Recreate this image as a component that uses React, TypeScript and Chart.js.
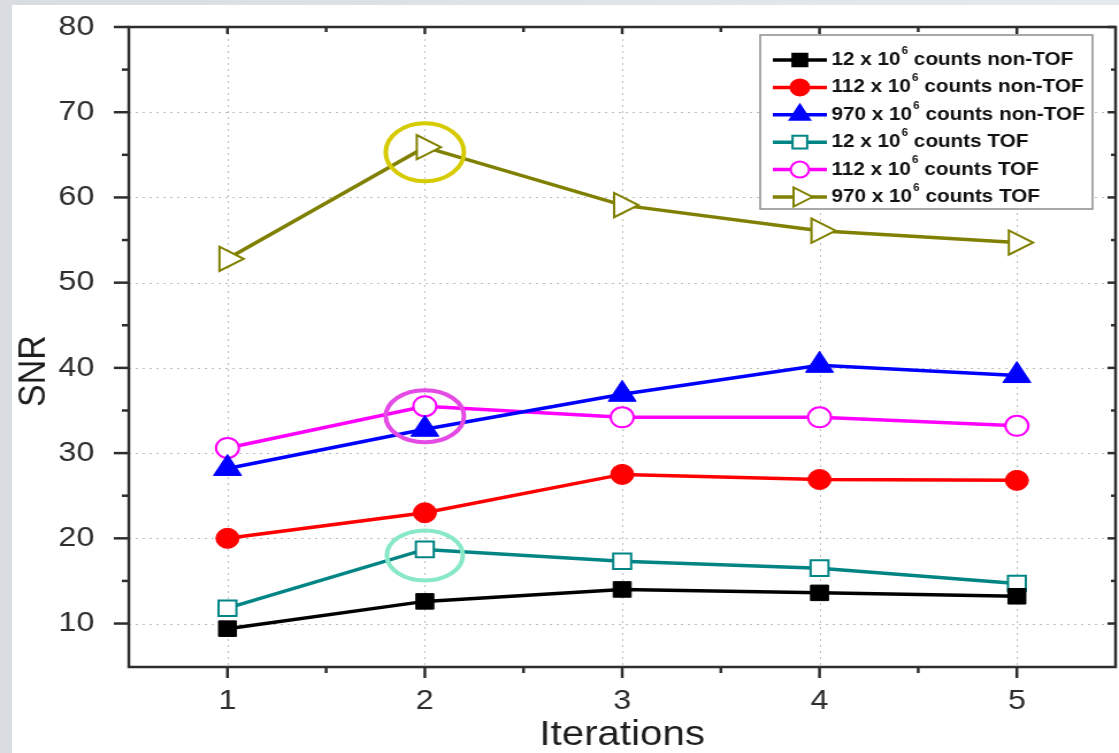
import React, { useEffect, useRef } from 'react';
import { Chart, registerables } from 'chart.js';
import { drawPoint } from 'chart.js/helpers';

Chart.register(...registerables);

// ---------- data ----------
const iterations = [1, 2, 3, 4, 5];
const seriesLabels = [
  '12 x 10⁶ counts non-TOF',
  '112 x 10⁶ counts non-TOF',
  '970 x 10⁶ counts non-TOF',
  '12 x 10⁶ counts TOF',
  '112 x 10⁶ counts TOF',
  '970 x 10⁶ counts TOF',
];
const snr12NonTof = [9.4, 12.6, 14.0, 13.6, 13.2];
const snr112NonTof = [20.0, 23.0, 27.5, 26.9, 26.8];
const snr970NonTof = [28.2, 32.8, 36.9, 40.3, 39.1];
const snr12Tof = [11.8, 18.7, 17.3, 16.5, 14.7];
const snr112Tof = [30.6, 35.5, 34.2, 34.2, 33.2];
const snr970Tof = [52.8, 65.9, 59.1, 56.1, 54.7];
const xTickValues = [1, 2, 3, 4, 5];
const xTickLabels = ['1', '2', '3', '4', '5'];
const yTickValues = [10, 20, 30, 40, 50, 60, 70, 80];
const yTickLabels = ['10', '20', '30', '40', '50', '60', '70', '80'];
const xAxisTitle = 'Iterations';
const yAxisTitle = 'SNR';

const seriesValues = [snr12NonTof, snr112NonTof, snr970NonTof, snr12Tof, snr112Tof, snr970Tof];

// ---------- styles ----------
const FONT = "'Liberation Sans', Arial, Helvetica, sans-serif";
const INK = '#2e2e2e';
const CANVAS_W = 973; // drawn narrower, displayed stretched like the reference
const CANVAS_H = 753;
const DISPLAY_W = 1119;

const seriesStyles = [
  { color: '#000000', fill: '#000000', pointStyle: 'rect', radius: 11, rotation: 0, lr: 9 },
  { color: '#ff0000', fill: '#ff0000', pointStyle: 'circle', radius: 10, rotation: 0, lr: 8 },
  { color: '#0000ff', fill: '#0000ff', pointStyle: 'triangle', radius: 14, rotation: 0, lr: 10 },
  { color: '#008484', fill: '#ffffff', pointStyle: 'rect', radius: 11, rotation: 0, lr: 9 },
  { color: '#ff00ff', fill: '#ffffff', pointStyle: 'circle', radius: 10, rotation: 0, lr: 8 },
  { color: '#808000', fill: '#ffffff', pointStyle: 'triangle', radius: 14, rotation: 90, lr: 11 },
];

const highlightRings = [
  { series: 5, index: 1, color: '#d6cb00', dy: 5, rx: 34, ry: 29 },
  { series: 4, index: 1, color: '#e44ae4', dy: 10, rx: 34, ry: 26 },
  { series: 3, index: 1, color: '#88e8c8', dy: 6, rx: 33, ry: 25 },
];

const legendBox = { left: 661, top: 35, right: 950, bottom: 209, rowTop: 60, rowStep: 27.4, lineX1: 672, lineX2: 719, textX: 723 };

const zeroPadding = (s: any) => {
  s.paddingTop = 0;
  s.paddingBottom = 0;
  s.paddingLeft = 0;
  s.paddingRight = 0;
};

const framePlugin = {
  id: 'originFrame',
  beforeDatasetsDraw(chart: any) {
    const { ctx, chartArea, scales } = chart;
    const { left, right, top, bottom } = chartArea;
    ctx.save();
    ctx.strokeStyle = '#bdbdbd';
    ctx.lineWidth = 1;
    ctx.setLineDash([2, 4]);
    for (const v of xTickValues) {
      const px = Math.round(scales.x.getPixelForValue(v)) + 0.5;
      ctx.beginPath(); ctx.moveTo(px, top); ctx.lineTo(px, bottom); ctx.stroke();
    }
    for (const v of yTickValues) {
      const py = Math.round(scales.y.getPixelForValue(v)) + 0.5;
      ctx.beginPath(); ctx.moveTo(left, py); ctx.lineTo(right, py); ctx.stroke();
    }
    ctx.restore();
  },
  afterDatasetsDraw(chart: any) {
    const { ctx } = chart;
    ctx.save();
    for (const ring of highlightRings) {
      const el = chart.getDatasetMeta(ring.series).data[ring.index];
      ctx.strokeStyle = ring.color;
      ctx.lineWidth = 4;
      ctx.beginPath();
      ctx.ellipse(el.x, el.y + ring.dy, ring.rx, ring.ry, 0, 0, Math.PI * 2);
      ctx.stroke();
    }
    ctx.restore();
  },
  afterDraw(chart: any) {
    const { ctx, chartArea, scales } = chart;
    const { left, right, top, bottom } = chartArea;
    ctx.save();
    ctx.strokeStyle = INK;
    ctx.lineWidth = 2.5;
    ctx.setLineDash([]);
    const seg = (x1: number, y1: number, x2: number, y2: number) => {
      ctx.beginPath(); ctx.moveTo(x1, y1); ctx.lineTo(x2, y2); ctx.stroke();
    };
    // x ticks
    for (let i = 0; i < xTickValues.length; i++) {
      const px = scales.x.getPixelForValue(xTickValues[i]);
      seg(px, bottom, px, bottom + 11);
      seg(px, top, px, top + 7);
      if (i < xTickValues.length - 1) {
        const mx = scales.x.getPixelForValue((xTickValues[i] + xTickValues[i + 1]) / 2);
        seg(mx, bottom, mx, bottom + 6);
        seg(mx, top, mx, top + 5);
      }
    }
    // y ticks
    for (let i = 0; i < yTickValues.length; i++) {
      const py = scales.y.getPixelForValue(yTickValues[i]);
      seg(left - 13, py, left, py);
      seg(right, py, right - 7, py);
      if (i < yTickValues.length - 1) {
        const my = scales.y.getPixelForValue((yTickValues[i] + yTickValues[i + 1]) / 2);
        seg(left - 6, my, left, my);
        seg(right, my, right - 4, my);
      }
    }
    ctx.strokeRect(left, top, right - left, bottom - top);

    // y title
    ctx.save();
    ctx.translate(30, 371);
    ctx.rotate(-Math.PI / 2);
    ctx.fillStyle = '#1e1e1e';
    ctx.font = `34px ${FONT}`;
    ctx.textAlign = 'center';
    ctx.textBaseline = 'middle';
    ctx.fillText(yAxisTitle, 0, 0);
    ctx.restore();

    // legend
    const lb = legendBox;
    ctx.fillStyle = '#ffffff';
    ctx.fillRect(lb.left, lb.top, lb.right - lb.left, lb.bottom - lb.top);
    ctx.strokeStyle = '#8c8c8c';
    ctx.lineWidth = 1.5;
    ctx.strokeRect(lb.left, lb.top, lb.right - lb.left, lb.bottom - lb.top);
    chart.data.datasets.forEach((ds: any, i: number) => {
      const st = seriesStyles[i];
      const cy = lb.rowTop + i * lb.rowStep;
      ctx.strokeStyle = st.color;
      ctx.lineWidth = 3.5;
      seg(lb.lineX1, cy, lb.lineX2, cy);
      ctx.fillStyle = st.fill;
      ctx.strokeStyle = st.color;
      ctx.lineWidth = 2;
      drawPoint(ctx, { pointStyle: st.pointStyle, rotation: st.rotation, radius: st.lr, borderWidth: 2 } as any, (lb.lineX1 + lb.lineX2) / 2, cy);
      const parts = String(ds.label).split('⁶');
      ctx.fillStyle = '#111111';
      ctx.textAlign = 'left';
      ctx.textBaseline = 'middle';
      ctx.font = `bold 18px ${FONT}`;
      let tx = lb.textX;
      ctx.fillText(parts[0], tx, cy);
      tx += ctx.measureText(parts[0]).width;
      if (parts.length > 1) {
        ctx.font = `bold 10px ${FONT}`;
        ctx.fillText('6', tx + 1, cy - 9);
        tx += ctx.measureText('6').width + 1;
        ctx.font = `bold 18px ${FONT}`;
        ctx.fillText(parts[1], tx, cy);
      }
    });
    ctx.restore();
  },
};

export default function App() {
  const canvasRef = useRef<HTMLCanvasElement | null>(null);

  useEffect(() => {
    const canvas = canvasRef.current;
    if (!canvas) return;
    const tickFont = { family: FONT, size: 28 };
    const chart = new Chart(canvas, {
      type: 'line',
      data: {
        datasets: seriesValues.map((vals, i) => {
          const st = seriesStyles[i];
          return {
            label: seriesLabels[i],
            data: iterations.map((it, j) => ({ x: it, y: vals[j] })),
            borderColor: st.color,
            backgroundColor: st.fill,
            borderWidth: 3.5,
            pointStyle: st.pointStyle as any,
            pointRotation: st.rotation,
            pointRadius: st.radius,
            pointBorderWidth: st.fill === '#ffffff' ? 2 : 1,
            pointBackgroundColor: st.fill,
            pointBorderColor: st.color,
            tension: 0,
          };
        }),
      },
      options: {
        responsive: false,
        animation: false,
        devicePixelRatio: 1,
        layout: { autoPadding: false, padding: { left: 10, right: 3, top: 27, bottom: 0 } },
        plugins: { legend: { display: false }, tooltip: { enabled: false } },
        scales: {
          x: {
            type: 'linear',
            min: 0.5,
            max: 5.5,
            afterBuildTicks: (s: any) => { s.ticks = xTickValues.map((v) => ({ value: v })); },
            afterFit: (s: any) => { s.height = 86; zeroPadding(s); },
            grid: { display: false },
            border: { display: false },
            ticks: {
              padding: 9,
              font: tickFont,
              color: INK,
              maxRotation: 0,
              callback: (v: any) => xTickLabels[xTickValues.indexOf(Number(v))] ?? '',
            },
            title: {
              display: true,
              text: xAxisTitle,
              color: '#1e1e1e',
              font: { family: FONT, size: 35, lineHeight: 1.0 },
              padding: 0,
            },
          },
          y: {
            type: 'linear',
            min: 4.9,
            max: 80,
            afterBuildTicks: (s: any) => { s.ticks = yTickValues.map((v) => ({ value: v })); },
            afterFit: (s: any) => { s.width = 102; zeroPadding(s); },
            grid: { display: false },
            border: { display: false },
            ticks: {
              padding: 22,
              font: tickFont,
              color: INK,
              callback: (v: any) => yTickLabels[yTickValues.indexOf(Number(v))] ?? '',
            },
          },
        },
      },
      plugins: [framePlugin],
    });
    return () => chart.destroy();
  }, []);

  return (
    <div style={{ position: 'fixed', left: 0, top: 0, width: DISPLAY_W, height: CANVAS_H, background: 'linear-gradient(90deg, #d9dce1, #e6e9ed)', overflow: 'hidden' }}>
      <div style={{ position: 'absolute', left: 12, top: 5, right: 0, bottom: 0, background: '#ffffff' }} />
      <canvas
        ref={canvasRef}
        width={CANVAS_W}
        height={CANVAS_H}
        style={{ position: 'absolute', left: 0, top: 0, width: DISPLAY_W + 'px', height: CANVAS_H + 'px' }}
      />
    </div>
  );
}
